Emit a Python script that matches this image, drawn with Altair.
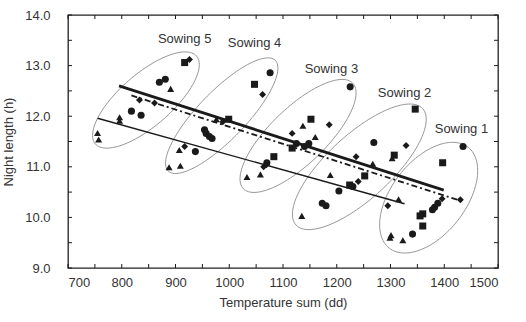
import altair as alt
import pandas as pd
import numpy as np

# ---------------- data ----------------
circle_x = [870, 881, 818, 836,
            954, 957, 963, 968, 937, 1076,
            1070, 1125, 1140, 1148, 1225,
            1269, 1230, 1204, 1173, 1180,
            1435, 1388, 1382, 1378, 1341]
circle_y = [12.67, 12.73, 12.10, 12.02,
            11.73, 11.66, 11.60, 11.56, 11.30, 12.86,
            11.08, 11.46, 11.40, 11.46, 12.58,
            11.48, 10.61, 10.52, 10.28, 10.23,
            11.40, 10.28, 10.20, 10.15, 9.67]

square_x = [917,
            1047, 999,
            1083, 1117, 1152,
            1346, 1307, 1252, 1224,
            1397, 1360, 1355, 1360]
square_y = [13.06,
            12.63, 11.94,
            11.20, 11.37, 11.94,
            12.14, 11.23, 10.82, 10.64,
            11.08, 10.07, 10.03, 9.83]

triangle_x = [755, 757, 891, 796, 796,
              907, 888, 909, 976,
              1033, 1058, 1137, 1160,
              1303, 1267, 1188, 1135,
              1301, 1299, 1323, 1315]
triangle_y = [11.67, 11.54, 12.54, 11.98, 11.91,
              11.33, 10.99, 11.02, 11.94,
              10.80, 10.85, 11.81, 11.59,
              11.17, 11.06, 10.84, 10.03,
              9.65, 9.60, 9.55, 10.36]

diamond_x = [926, 833, 861,
             917, 1062, 988,
             1069, 1064, 1117, 1186,
             1329, 1236, 1240,
             1430, 1396, 1295]
diamond_y = [13.12, 12.32, 12.26,
             11.40, 12.43, 11.89,
             11.04, 11.00, 11.66, 11.83,
             11.42, 11.20, 10.71,
             10.35, 10.37, 10.23]

# regression lines
line_names = ["thick", "dashdot", "thin"]
line_x0 = [795, 818, 755]
line_x1 = [1399, 1433, 1326]
line_y0 = [12.60, 12.41, 11.96]
line_y1 = [10.54, 10.32, 10.27]

# sowing groups: label position, ellipse centre (data), semi-axes (px), tilt (deg)
sow_names = ["Sowing 5", "Sowing 4", "Sowing 3", "Sowing 2", "Sowing 1"]
sow_label_x = [917, 1047, 1190, 1326, 1432]
sow_label_y = [13.53, 13.45, 12.93, 12.46, 11.75]
ell_cx = [845, 986, 1128, 1242, 1371]
ell_cy = [12.32, 12.01, 11.61, 11.00, 10.39]
ell_a = [67, 77, 76, 86, 64]
ell_b = [26, 24, 28, 32, 37]
ell_ang = [41, 46, 44, 42.6, 52]

x_ticks = list(range(700, 1501, 50))
y_ticks = [9.0, 9.5, 10.0, 10.5, 11.0, 11.5, 12.0, 12.5, 13.0, 13.5, 14.0]
x_labels = [700, 800, 900, 1000, 1100, 1200, 1300, 1400, 1500]
y_labels = [9.0, 10.0, 11.0, 12.0, 13.0, 14.0]

# ---------------- layout ----------------
W, H = 430, 253
XMIN, XMAX, YMIN, YMAX = 700, 1500, 9.0, 14.0
kx = (XMAX - XMIN) / W
ky = (YMAX - YMIN) / H
FONT = "Liberation Sans"
INK = "#1a1a1a"
XT = "Temperature sum (dd)"
YT = "Night length (h)"

pts = pd.concat([
    pd.DataFrame({"x": circle_x, "y": circle_y, "m": "circle"}),
    pd.DataFrame({"x": square_x, "y": square_y, "m": "square"}),
    pd.DataFrame({"x": triangle_x, "y": triangle_y, "m": "triangle"}),
    pd.DataFrame({"x": diamond_x, "y": diamond_y, "m": "diamond"}),
], ignore_index=True)

lines = pd.DataFrame({"name": line_names, "x0": line_x0, "x1": line_x1,
                      "y0": line_y0, "y1": line_y1})

labels = pd.DataFrame({"name": sow_names, "x": sow_label_x, "y": sow_label_y})

rows = []
t = np.linspace(0, 2 * np.pi, 121)
for n, cx, cy, a, b, ang in zip(sow_names, ell_cx, ell_cy, ell_a, ell_b, ell_ang):
    th = np.radians(ang)
    dx = a * np.cos(t) * np.cos(th) - b * np.sin(t) * np.sin(th)
    dy = a * np.cos(t) * np.sin(th) + b * np.sin(t) * np.cos(th)
    for i in range(len(t)):
        rows.append({"name": n, "i": i, "x": cx + dx[i] * kx, "y": cy + dy[i] * ky})
ell = pd.DataFrame(rows)

xs = alt.Scale(domain=[XMIN, XMAX], nice=False, zero=False)
ys = alt.Scale(domain=[YMIN, YMAX], nice=False, zero=False)

xaxis = alt.Axis(values=x_labels, format="d", ticks=False, domain=False,
                 grid=False, labelFont=FONT, labelFontSize=13, labelColor="#333",
                 labelPadding=8, titleFont=FONT, titleFontSize=13,
                 titleFontWeight="normal", titleColor="#333", titlePadding=7)
yaxis = alt.Axis(values=y_labels, format=".1f", ticks=False, domain=False,
                 grid=False, labelFont=FONT, labelFontSize=13, labelColor="#333",
                 labelPadding=18, titleFont=FONT, titleFontSize=13,
                 titleFontWeight="normal", titleColor="#333", titlePadding=9)


def X(field):
    return alt.X(field, type="quantitative", scale=xs, axis=xaxis, title=XT)


def Y(field):
    return alt.Y(field, type="quantitative", scale=ys, axis=yaxis, title=YT)


ellipses = alt.Chart(ell).mark_line(color="#8a8a8a", strokeWidth=0.9).encode(
    x=X("x"), y=Y("y"), detail="name:N", order="i:Q",
)


def line_layer(name, width, dash=None):
    kw = dict(color=INK, strokeWidth=width)
    if dash:
        kw["strokeDash"] = dash
    return alt.Chart(lines).transform_filter(alt.datum.name == name).mark_rule(**kw).encode(
        x=X("x0"), x2="x1", y=Y("y0"), y2="y1",
    )


thick = line_layer("thick", 2.8)
dash = line_layer("dashdot", 1.8, [6, 3, 2, 3])
thin = line_layer("thin", 1.4)

points = alt.Chart(pts).mark_point(filled=True, opacity=1, color=INK).encode(
    x=X("x"), y=Y("y"),
    shape=alt.Shape("m:N", legend=None,
                    scale=alt.Scale(domain=["circle", "square", "triangle", "diamond"],
                                    range=["circle", "square", "triangle-up", "diamond"])),
    size=alt.Size("m:N", legend=None,
                  scale=alt.Scale(domain=["circle", "square", "triangle", "diamond"],
                                  range=[50, 48, 55, 45])),
)

texts = alt.Chart(labels).mark_text(font=FONT, fontSize=13, color="#333",
                                    align="center", baseline="middle").encode(
    x=X("x"), y=Y("y"), text="name:N",
)

TL = 4
xt = pd.DataFrame({"v": x_ticks})
yt = pd.DataFrame({"v": y_ticks})
tick_bottom = alt.Chart(xt).mark_rule(color=INK, strokeWidth=1).encode(
    x=X("v"), y=alt.value(H), y2=alt.value(H - TL))
tick_top = alt.Chart(xt).mark_rule(color=INK, strokeWidth=1).encode(
    x=X("v"), y=alt.value(0), y2=alt.value(TL))
tick_left = alt.Chart(yt).mark_rule(color=INK, strokeWidth=1).encode(
    y=Y("v"), x=alt.value(0), x2=alt.value(TL))
tick_right = alt.Chart(yt).mark_rule(color=INK, strokeWidth=1).encode(
    y=Y("v"), x=alt.value(W), x2=alt.value(W - TL))

chart = alt.layer(
    ellipses, thin, dash, thick, points, texts,
    tick_bottom, tick_top, tick_left, tick_right,
).properties(
    width=W, height=H,
    autosize=alt.AutoSizeParams(type="none"),
    padding={"left": 68, "top": 15, "right": 28, "bottom": 54},
    background="white",
).configure_view(stroke="#222", strokeWidth=1.3)

chart.save("out.html", embed_options={"renderer": "svg", "actions": False})
